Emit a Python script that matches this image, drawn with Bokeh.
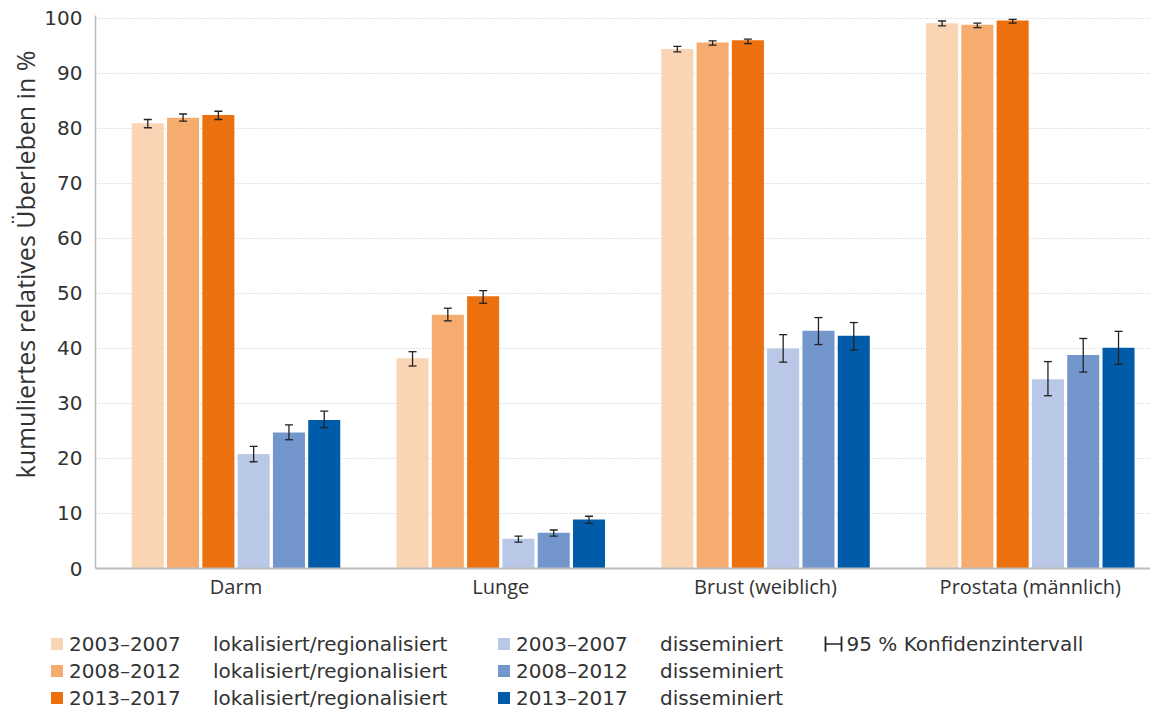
from bokeh.plotting import figure
from bokeh.layouts import column
from bokeh.models import (ColumnDataSource, Whisker, TeeHead, FixedTicker, Legend,
                          LegendItem, Label, Title)
from bokeh.embed import file_html
from bokeh.resources import INLINE

# ---------------- data ----------------
categories = ["Darm", "Lunge", "Brust (weiblich)", "Prostata (männlich)"]
periods = ["2003–2007", "2008–2012", "2013–2017"]
stages = ["lokalisiert/regionalisiert", "disseminiert"]
ci_label = "95 % Konfidenzintervall"
y_label = "kumuliertes relatives Überleben in %"
y_ticks = [0, 10, 20, 30, 40, 50, 60, 70, 80, 90, 100]

lok_2003 = [80.9, 38.2, 94.4, 99.1]
lok_2003_lo = [80.1, 36.8, 93.9, 98.6]
lok_2003_hi = [81.6, 39.4, 94.9, 99.5]

lok_2008 = [81.9, 46.1, 95.6, 98.8]
lok_2008_lo = [81.3, 45.0, 95.1, 98.3]
lok_2008_hi = [82.6, 47.3, 95.9, 99.1]

lok_2013 = [82.4, 49.5, 96.0, 99.6]
lok_2013_lo = [81.6, 48.2, 95.4, 99.1]
lok_2013_hi = [83.1, 50.5, 96.2, 99.8]

dis_2003 = [20.8, 5.4, 40.0, 34.4]
dis_2003_lo = [19.4, 4.8, 37.5, 31.4]
dis_2003_hi = [22.2, 5.9, 42.5, 37.6]

dis_2008 = [24.7, 6.5, 43.2, 38.8]
dis_2008_lo = [23.4, 5.9, 40.7, 35.7]
dis_2008_hi = [26.1, 7.0, 45.6, 41.8]

dis_2013 = [27.0, 8.9, 42.3, 40.1]
dis_2013_lo = [25.6, 8.2, 39.7, 37.1]
dis_2013_hi = [28.6, 9.5, 44.7, 43.1]

series = [
    (lok_2003, lok_2003_lo, lok_2003_hi),
    (lok_2008, lok_2008_lo, lok_2008_hi),
    (lok_2013, lok_2013_lo, lok_2013_hi),
    (dis_2003, dis_2003_lo, dis_2003_hi),
    (dis_2008, dis_2008_lo, dis_2008_hi),
    (dis_2013, dis_2013_lo, dis_2013_hi),
]

# ---------------- styles ----------------
colors = ["#FAD5B4", "#F5AC6E", "#EC700E", "#B9C8E7", "#7396CD", "#005CA9"]
TXT = "#333333"
AXIS = "#BDBDBD"
ERR = "#222222"
slot = 0.1333
bar_w = 0.121

p = figure(width=1150, height=608, x_range=(-0.0307, 3.954), y_range=(0, 100.5),
           output_backend="svg", toolbar_location=None,
           min_border_left=95, min_border_right=0, min_border_top=15,
           min_border_bottom=40)
p.frame_align = False
p.outline_line_color = None
p.xgrid.grid_line_color = None
p.ygrid.grid_line_color = "#C8C8C8"
p.ygrid.grid_line_dash = "1 2"
p.ygrid.grid_line_width = 1
p.ygrid.ticker = FixedTicker(ticks=y_ticks)

for k, (vals, lo, hi) in enumerate(series):
    off = (k - 2.5) * slot
    src = ColumnDataSource(dict(
        x=[i + 0.5 + off for i in range(len(categories))],
        top=vals, lo=lo, hi=hi))
    p.vbar(x="x", top="top", bottom=0, width=bar_w, source=src,
           fill_color=colors[k], line_color=None)
    w = Whisker(source=src, base="x", lower="lo", upper="hi", level="annotation",
                line_color=ERR, line_width=1.3,
                upper_head=TeeHead(size=8, line_color=ERR, line_width=1.3),
                lower_head=TeeHead(size=8, line_color=ERR, line_width=1.3))
    p.add_layout(w)

# axes
p.yaxis.ticker = FixedTicker(ticks=y_ticks)
p.yaxis.major_label_text_font = "DejaVu Sans"
p.yaxis.major_label_text_font_size = "20px"
p.yaxis.major_label_text_color = TXT
p.yaxis.major_label_standoff = 13
p.yaxis.major_tick_line_color = None
p.yaxis.major_tick_out = 0
p.yaxis.major_tick_in = 0
p.yaxis.minor_tick_line_color = None
p.yaxis.minor_tick_out = 0
p.yaxis.axis_line_color = AXIS
p.yaxis.axis_line_width = 1.5

# y title placed like the reference (starts 90px above the baseline)
p.add_layout(Title(text=y_label, align="left", offset=90, standoff=0,
                   vertical_align="bottom",
                   text_font="Open Sans", text_font_style="normal",
                   text_font_size="25px", text_color=TXT), "left")

p.xaxis.ticker = FixedTicker(ticks=[i + 0.5 for i in range(len(categories))])
p.xaxis.major_label_overrides = {i + 0.5: c for i, c in enumerate(categories)}
p.xaxis.major_label_text_font = "Open Sans"
p.xaxis.major_label_text_font_size = "20px"
p.xaxis.major_label_text_color = TXT
p.xaxis.major_label_standoff = 4
p.xaxis.major_tick_line_color = None
p.xaxis.major_tick_out = 0
p.xaxis.major_tick_in = 0
p.xaxis.minor_tick_line_color = None
p.xaxis.minor_tick_out = 0
p.xaxis.axis_line_color = AXIS
p.xaxis.axis_line_width = 2

# ---------------- legend panel ----------------
lp = figure(width=1150, height=103, x_range=(0, 1), y_range=(0, 1),
            output_backend="svg", toolbar_location=None,
            x_axis_location=None, y_axis_location=None,
            min_border_left=0, min_border_right=0, min_border_top=0,
            min_border_bottom=0)
lp.frame_align = False
lp.outline_line_color = None
lp.grid.visible = False

# legend keys (zero-height bars, only their legend swatches are seen)
keys = [lp.vbar(x=[0.5], top=[0], bottom=0, width=0.1, fill_color=c, line_color=None)
        for c in colors]

leg_common = dict(glyph_width=15, glyph_height=15, spacing=0, label_height=27,
                  padding=0, margin=0, border_line_color=None,
                  background_fill_alpha=0, label_text_font="DejaVu Sans",
                  label_text_font_size="20px", label_text_color=TXT,
                  label_text_baseline="middle")

legends = [
    Legend(items=[LegendItem(label=periods[j], renderers=[keys[j]]) for j in range(3)],
           location=(49, 0), label_standoff=5, **leg_common),
    Legend(items=[LegendItem(label=stages[0], renderers=[keys[j]]) for j in range(3)],
           location=(213, 0), label_standoff=0, **{**leg_common, "glyph_width": 0}),
    Legend(items=[LegendItem(label=periods[j], renderers=[keys[3 + j]]) for j in range(3)],
           location=(496, 0), label_standoff=5, **leg_common),
    Legend(items=[LegendItem(label=stages[1], renderers=[keys[3 + j]]) for j in range(3)],
           location=(660, 0), label_standoff=0, **{**leg_common, "glyph_width": 0}),
]
for lg in legends:
    lp.add_layout(lg)

ci_src = ColumnDataSource(dict(b=[67.5], lo=[825], hi=[841]))
ci = Whisker(source=ci_src, base="b", lower="lo", upper="hi", dimension="width",
             base_units="screen", lower_units="screen", upper_units="screen",
             level="annotation", line_color=ERR, line_width=1.3,
             upper_head=TeeHead(size=15, line_color=ERR, line_width=1.8),
             lower_head=TeeHead(size=15, line_color=ERR, line_width=1.8))
lp.add_layout(ci)
lp.add_layout(Label(x=846, y=67.5, x_units="screen", y_units="screen", text=ci_label,
                    text_font="DejaVu Sans", text_font_size="20px", text_color=TXT,
                    text_baseline="middle", text_align="left"))

layout = column(p, lp, spacing=0)
open("out.html", "w").write(file_html(layout, INLINE))
